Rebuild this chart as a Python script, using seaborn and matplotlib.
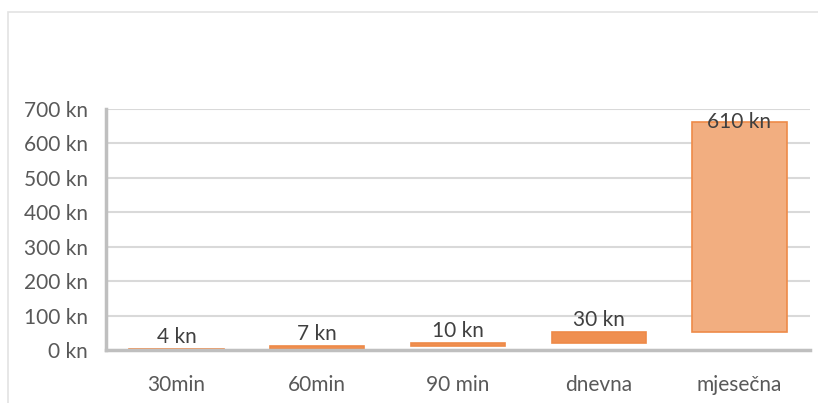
import numpy as np
import pandas as pd
import matplotlib.pyplot as plt
import seaborn as sns
from matplotlib.patches import Rectangle

# data: ticket prices (waterfall, each bar starts where the previous ended)
categories = ['30min', '60min', '90 min', 'dnevna', 'mjesečna']
prices = [4, 7, 10, 30, 610]
y_ticks = [0, 100, 200, 300, 400, 500, 600, 700]

df = pd.DataFrame({'kategorija': categories, 'cijena': prices})
df['start'] = df['cijena'].cumsum() - df['cijena']
df['kraj'] = df['start'] + df['cijena']

sns.set_style('white')
plt.rcParams['font.family'] = ['Lato', 'DejaVu Sans']

fig = plt.figure(figsize=(8.18, 4.03), dpi=100)
fig.patches.append(Rectangle((0.01, -0.05), 1.1, 1.02, transform=fig.transFigure,
                             facecolor='none', edgecolor='#E3E3E3', linewidth=1.2))
ax = fig.add_axes([0.1296, 0.1315, 0.8604, 0.598])

sns.barplot(data=df, x='kategorija', y='cijena', bottom=df['start'].to_numpy(),
            color='#F2AE80', saturation=1, width=0.67, edgecolor='#EE8A48',
            linewidth=1.2, ax=ax)

# thin bars look solid orange in the original (gradient edges dominate)
for p, val in zip(ax.patches, df['cijena']):
    if val < 50:
        p.set_facecolor('#EF8F50')

ax.set_ylim(0, 700)
ax.set_yticks(y_ticks)
ax.set_yticklabels([f'{v} kn' for v in y_ticks])
ax.grid(axis='y', color='#D9D9D9', linewidth=1.5)
ax.set_axisbelow(True)
for s in ['top', 'right']:
    ax.spines[s].set_visible(False)
for s in ['left', 'bottom']:
    ax.spines[s].set_color('#BFBFBF')
    ax.spines[s].set_linewidth(2.5)
ax.tick_params(axis='y', length=0, pad=13, labelsize=15, labelcolor='#595959')
ax.tick_params(axis='x', length=0, pad=18, labelsize=15, labelcolor='#595959')
ax.set_xlabel('')
ax.set_ylabel('')

# value labels above each bar, kept inside the plot area
label_y = np.minimum(df['kraj'] + 35, df['kraj'].max())
for i, (val, ly) in enumerate(zip(df['cijena'], label_y)):
    ax.text(i, ly, f'{val} kn', ha='center', va='center', fontsize=15, color='#404040')

fig.savefig('out.png', dpi=100)
